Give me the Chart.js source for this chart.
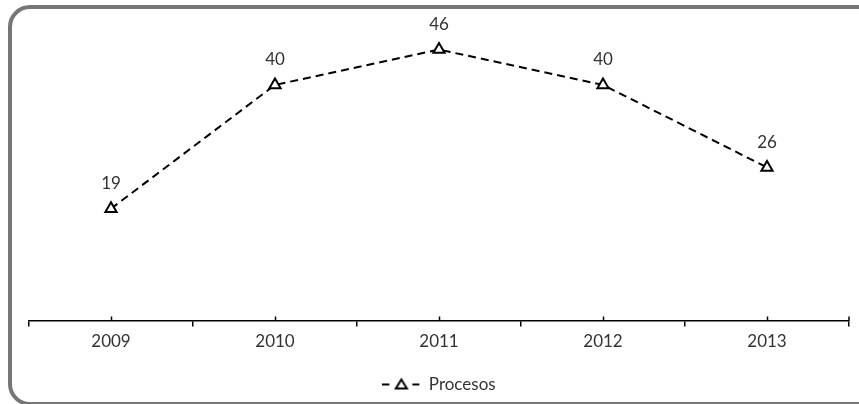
<!DOCTYPE html>
<html lang="es">
<head>
  <meta charset="UTF-8">
  <title>Procesos 2009-2013</title>
  <script src="https://cdn.jsdelivr.net/npm/chart.js"></script>
  <style>
    html, body { margin: 0; padding: 0; background: #fff; }
    .wrap { position: relative; width: 859px; height: 404px; overflow: hidden; }
    .frame {
      position: absolute; left: 8px; top: 5px; width: 880px; height: 393px;
      border: 4px solid #767676; border-radius: 22px; box-sizing: content-box;
    }
    #chart { position: absolute; left: 0; top: 0; }
  </style>
</head>
<body>
  <div class="wrap">
    <div class="frame"></div>
    <canvas id="chart" width="859" height="404"></canvas>
  </div>

  <script>
    // Datos
    const years = ['2009', '2010', '2011', '2012', '2013'];
    const procesos = [19, 40, 46, 40, 26];
    const seriesName = 'Procesos';

    const textColor = '#333';
    const fontFamily = 'Lato, "Open Sans", sans-serif';

    // icono de la leyenda: linea discontinua con triangulo
    const legendIcon = document.createElement('canvas');
    legendIcon.width = 38;
    legendIcon.height = 14;
    (function () {
      const c = legendIcon.getContext('2d');
      c.strokeStyle = '#000';
      c.lineWidth = 2;
      c.setLineDash([7, 8]);
      c.beginPath();
      c.moveTo(0, 7);
      c.lineTo(38, 7);
      c.stroke();
      c.setLineDash([]);
      c.beginPath();
      c.moveTo(19, 2);
      c.lineTo(24.5, 11);
      c.lineTo(13.5, 11);
      c.closePath();
      c.fillStyle = '#fff';
      c.fill();
      c.stroke();
    })();

    // etiquetas de valor sobre cada punto
    const valueLabels = {
      id: 'valueLabels',
      afterDatasetsDraw(chart) {
        const ctx = chart.ctx;
        const meta = chart.getDatasetMeta(0);
        ctx.save();
        ctx.font = '17px ' + fontFamily;
        ctx.fillStyle = textColor;
        ctx.textAlign = 'center';
        ctx.textBaseline = 'middle';
        meta.data.forEach((pt, i) => {
          ctx.fillText(String(chart.data.datasets[0].data[i]), pt.x, pt.y - 25);
        });
        ctx.restore();
      }
    };

    // marcas cortas hacia arriba en el centro de cada categoria
    const centerTicks = {
      id: 'centerTicks',
      afterDraw(chart) {
        const sc = chart.scales.x;
        const ctx = chart.ctx;
        ctx.save();
        ctx.strokeStyle = '#000';
        ctx.lineWidth = 1.5;
        ctx.beginPath();
        sc.ticks.forEach((t, i) => {
          const px = Math.round(sc.getPixelForTick(i)) + 0.5;
          ctx.moveTo(px, sc.top);
          ctx.lineTo(px, sc.top - 4);
        });
        ctx.moveTo(sc.right, sc.top);
        ctx.lineTo(sc.right, sc.top - 4);
        ctx.stroke();
        ctx.restore();
      }
    };

    new Chart(document.getElementById('chart'), {
      type: 'line',
      data: {
        labels: years,
        datasets: [{
          label: seriesName,
          data: procesos,
          borderColor: '#000',
          borderWidth: 2,
          borderDash: [8, 5],
          tension: 0,
          fill: false,
          pointStyle: 'triangle',
          pointRadius: 6.5,
          pointBorderWidth: 2,
          pointBackgroundColor: '#fff',
          pointBorderColor: '#000'
        }]
      },
      options: {
        responsive: false,
        animation: false,
        layout: { padding: { left: 29, right: 10, top: 26, bottom: 1 } },
        scales: {
          x: {
            offset: true,
            grid: {
              offset: true,
              drawOnChartArea: false,
              drawTicks: true,
              tickLength: 6,
              color: '#000',
              lineWidth: 1.5
            },
            border: { display: true, color: '#000', width: 1.5 },
            ticks: {
              padding: 5,
              color: textColor,
              font: { family: fontFamily, size: 17 }
            }
          },
          y: {
            display: false,
            min: 0,
            max: 50
          }
        },
        plugins: {
          tooltip: { enabled: false },
          legend: {
            position: 'bottom',
            labels: {
              usePointStyle: true,
              pointStyleWidth: 38,
              padding: 19,
              color: textColor,
              font: { family: fontFamily, size: 17 },
              generateLabels(chart) {
                const items = Chart.defaults.plugins.legend.labels.generateLabels(chart);
                items.forEach(it => { it.pointStyle = legendIcon; });
                return items;
              }
            }
          }
        }
      },
      plugins: [valueLabels, centerTicks]
    });
  </script>
</body>
</html>
